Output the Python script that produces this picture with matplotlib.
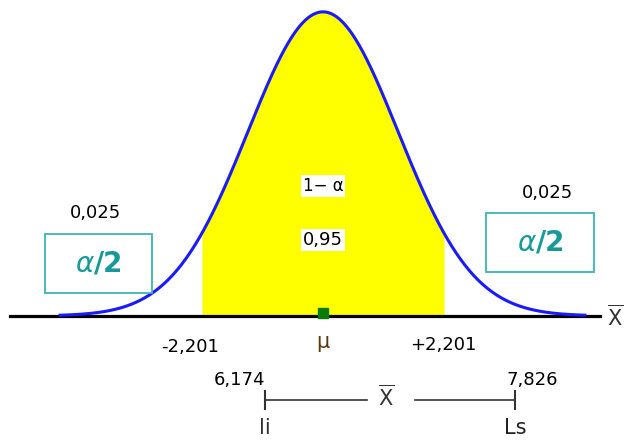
import numpy as np
import matplotlib.pyplot as plt

# values shown in the picture
mu = 0.0
z_crit = 2.201
conf = "0,95"
tail_area = "0,025"
lim_inf = "6,174"
lim_sup = "7,826"

# shape of the drawn bell (in z units of the picture)
sigma_draw = 1.364
z = np.linspace(-4.78, 4.76, 600)
h = np.exp(-(z - mu) ** 2 / (2 * sigma_draw ** 2))

fig = plt.figure(figsize=(6.29, 4.46), dpi=100)
ax = fig.add_axes([0, 0, 1, 1])
ax.set_xlim(-5.873, 5.564)
ax.set_ylim(-0.428, 1.039)
ax.axis("off")

teal = "#17999a"
box_col = "#3fb3b3"
white_bg = dict(facecolor="white", edgecolor="none", pad=1.5)
xbar = r"$\overline{\mathrm{X}}$"

# shaded central area
zz = np.linspace(-z_crit, z_crit, 300)
hh = np.exp(-(zz - mu) ** 2 / (2 * sigma_draw ** 2))
ax.fill_between(zz, 0, hh, color="#ffff00", lw=0, zorder=1)

# axis line and curve
ax.plot([-5.69, 5.036], [0, 0], color="black", lw=2.3, zorder=2)
ax.plot(z, h, color="#1a1aff", lw=2.2, zorder=3)
ax.plot([mu], [0.01], marker="s", color="#0a7a0a", ms=7.5, zorder=4)

fs = 13
ax.text(5.31, -0.005, xbar, fontsize=15, ha="center", va="center", color="#333333")

# tail labels
ax.text(-4.145, 0.339, tail_area, fontsize=fs, ha="center", va="center", bbox=white_bg)
ax.text(4.09, 0.405, tail_area, fontsize=fs, ha="center", va="center", bbox=white_bg)
for cx, cy, x0, x1, y0, y1 in [(-4.08, 0.171, -5.055, -3.109, 0.0757, 0.270),
                               (3.945, 0.240, 2.964, 4.927, 0.145, 0.339)]:
    ax.add_patch(plt.Rectangle((x0, y0), x1 - x0, y1 - y0, facecolor="white",
                               edgecolor=box_col, lw=1.3, zorder=5))
    ax.text(cx, cy, r"$\alpha$/2", fontsize=20, fontweight="bold", color=teal,
            ha="center", va="center", zorder=6)

# centre labels
ax.text(mu, 0.428, "1\u2212 \u03b1", fontsize=12, ha="center", va="center", bbox=white_bg, zorder=6)
ax.text(mu, 0.25, conf, fontsize=fs, ha="center", va="center", bbox=white_bg, zorder=6)

# critical values
ax.text(-2.418, -0.102, "-" + str(z_crit).replace(".", ","), fontsize=fs, ha="center", va="center")
ax.text(2.18, -0.095, "+" + str(z_crit).replace(".", ","), fontsize=fs, ha="center", va="center")
ax.text(mu, -0.0855, "\u03bc", fontsize=15, ha="center", va="center", color="#5a3a10")

# interval of the sample mean
li_z, ls_z, xbar_z = -1.055, 3.49, 1.145
y_int = -0.276
ax.plot([li_z, 0.8], [y_int, y_int], color="#333333", lw=1.2)
ax.plot([1.673, ls_z], [y_int, y_int], color="#333333", lw=1.2)
for xe in (li_z, ls_z):
    ax.plot([xe, xe], [y_int - 0.03, y_int + 0.03], color="#333333", lw=1.5)
ax.text(xbar_z, y_int + 0.01, xbar, fontsize=15, ha="center", va="center", color="#333333")
ax.text(-1.51, -0.2105, lim_inf, fontsize=fs, ha="center", va="center")
ax.text(3.8, -0.2105, lim_sup, fontsize=fs, ha="center", va="center")
ax.text(li_z, -0.368, "li", fontsize=15, ha="center", va="center", color="#333333")
ax.text(ls_z, -0.368, "Ls", fontsize=15, ha="center", va="center", color="#222222")

fig.savefig("out.png", dpi=100)
